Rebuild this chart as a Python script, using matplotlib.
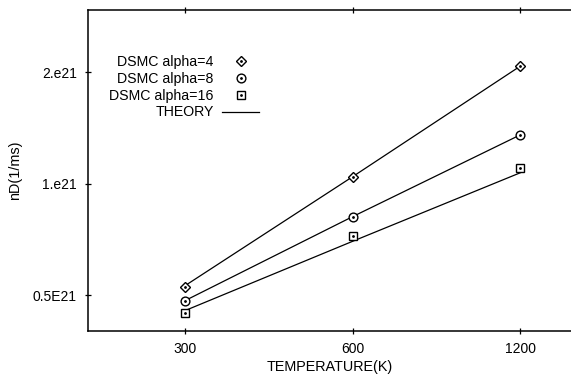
import matplotlib.pyplot as plt
from matplotlib.legend_handler import HandlerTuple
from matplotlib.ticker import FixedLocator, NullLocator

plt.rcParams['font.family'] = ['Liberation Sans', 'DejaVu Sans']

# temperatures (K)
temps = [300, 600, 1200]

# DSMC results, nD in units of 1e21 (1/ms)
dsmc_a4 = [0.527, 1.045, 2.08]
dsmc_a8 = [0.481, 0.813, 1.356]
dsmc_a16 = [0.447, 0.722, 1.10]

# theory curves, same units
theory_a4 = [0.530, 1.045, 2.08]
theory_a8 = [0.483, 0.815, 1.356]
theory_a16 = [0.454, 0.699, 1.071]

yticks = [0.5, 1.0, 2.0]
ytick_labels = ['0.5E21', '1.e21', '2.e21']

fig = plt.figure(figsize=(5.71, 3.82), dpi=100)
ax = fig.add_axes([88 / 571, 51 / 382, 1 - 88 / 571, 321 / 382])

ax.set_xscale('log')
ax.set_yscale('log')

for th in (theory_a4, theory_a8, theory_a16):
    line, = ax.plot(temps, th, color='black', lw=0.9, zorder=2)

handles = []
for vals, mk, ms in ((dsmc_a4, 'D', 5.2), (dsmc_a8, 'o', 6.3), (dsmc_a16, 's', 5.7)):
    h1, = ax.plot(temps, vals, ls='none', marker=mk, ms=ms, mfc='white',
                  mec='black', mew=1.0, zorder=3)
    h2, = ax.plot(temps, vals, ls='none', marker='o', ms=1.0, mfc='black',
                  mec='black', zorder=4)
    handles.append((h1, h2))
handles.append(line)

ax.legend(handles, ['DSMC alpha=4', 'DSMC alpha=8', 'DSMC alpha=16', 'THEORY'],
          handler_map={tuple: HandlerTuple(ndivide=1)},
          markerfirst=False, frameon=False, fontsize=10.2,
          loc='upper right', bbox_to_anchor=(259 / 571, 1 - 55 / 382),
          bbox_transform=fig.transFigure, borderpad=0, borderaxespad=0,
          handlelength=2.6, handletextpad=0.6, labelspacing=0.2)

ax.set_xlim(201, 1480)
ax.set_ylim(0.4, 2.95)

ax.xaxis.set_major_locator(FixedLocator(temps))
ax.xaxis.set_minor_locator(NullLocator())
ax.set_xticklabels([str(t) for t in temps])
ax.yaxis.set_major_locator(FixedLocator(yticks))
ax.yaxis.set_minor_locator(NullLocator())
ax.set_yticklabels(ytick_labels)

ax.tick_params(axis='both', which='major', labelsize=10, length=4,
               width=0.9, direction='inout', pad=6)
ax.tick_params(axis='x', top=True)

ax.spines['right'].set_visible(False)
for s in ('left', 'bottom', 'top'):
    ax.spines[s].set_linewidth(1.1)

ax.set_xlabel('TEMPERATURE(K)', fontsize=10.4, labelpad=3)
ax.set_ylabel('nD(1/ms)', fontsize=10.4, labelpad=8)

fig.savefig('out.png', dpi=100)
